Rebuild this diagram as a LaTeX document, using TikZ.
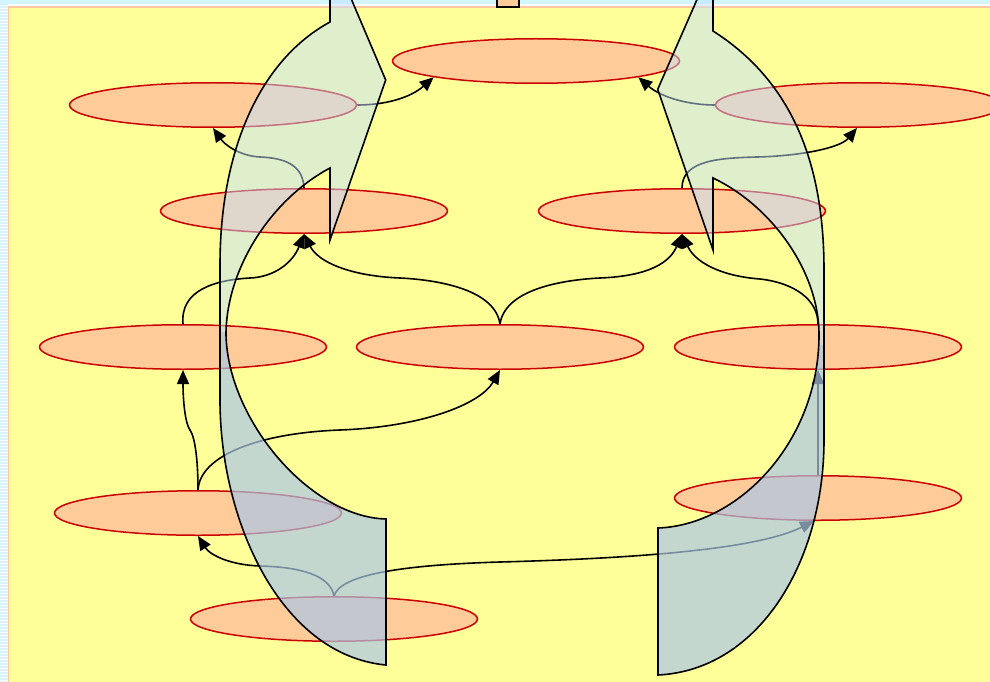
\documentclass[tikz,border=0pt]{standalone}
\usetikzlibrary{arrows.meta,shapes.geometric}
\definecolor{bgyellow}{RGB}{255,255,153}
\definecolor{peach}{RGB}{255,200,160}
\definecolor{nodefill}{RGB}{255,204,153}
\definecolor{nodeline}{RGB}{204,0,0}
\definecolor{pagecyan}{RGB}{210,245,255}
\definecolor{shA}{RGB}{192,224,255}
\definecolor{shB}{RGB}{171,199,229}
\begin{document}
\begin{tikzpicture}[x=1pt,y=-1pt,
  el/.style={ellipse, draw=nodeline, fill=nodefill, line width=1.5pt,
    minimum width=287pt, minimum height=44.5pt, inner sep=0pt},
  edge/.style={line width=1.6pt, -{Triangle[length=14pt,width=12pt]}},
  bigout/.style={draw=black, line width=1.6pt, line join=miter}]
\useasboundingbox (0,0) rectangle (990,682);
\clip (0,0) rectangle (990,682);
% page background
\fill[white] (0,0) rectangle (990,682);
\fill[pagecyan] (0,0) rectangle (990,4);
\foreach \yy in {1,4,...,682} \draw[pagecyan, line width=1.2pt] (0,\yy) -- (8,\yy);
\draw[fill=bgyellow, draw=peach, line width=1.6pt] (8.5,7) rectangle (1000,700);
\draw[fill=nodefill, line width=1.2pt] (497,-5) rectangle (519,7);
% nodes
\node[el] (n1) at (536,61) {};
\node[el] (n2L) at (213,105) {};
\node[el] (n2R) at (859,105) {};
\node[el] (n3L) at (304,211) {};
\node[el] (n3R) at (682,211) {};
\node[el] (n4L) at (183,347) {};
\node[el] (n4C) at (500,347) {};
\node[el] (n4R) at (818,347) {};
\node[el] (n5L) at (198,513) {};
\node[el] (n5R) at (818,498) {};
\node[el] (n6) at (334,619) {};
% edges
\draw[edge] (n2L.east) .. controls (385,105) and (410,98) .. (n1.189);
\draw[edge] (n2R.west) .. controls (690,105) and (662,98) .. (n1.-9);
\draw[edge] (n3L.north) .. controls (303,165) and (285,158) .. (260,157) .. controls (240,156) and (225,145) .. (n2L.south);
\draw[edge] (n3R.north) .. controls (682,160) and (720,158) .. (757,157) .. controls (800,156) and (840,148) .. (n2R.265);
\draw[edge] (n4L.north) .. controls (180,290) and (215,280) .. (250,278) .. controls (275,277) and (293,262) .. (n3L.south);
\draw[edge] (n4C.north) .. controls (495,290) and (440,280) .. (400,278) .. controls (350,276) and (318,262) .. (n3L.south);
\draw[edge] (n4C.north) .. controls (505,290) and (560,280) .. (600,278) .. controls (650,276) and (670,262) .. (n3R.south);
\draw[edge] (n4R.north) .. controls (818,300) and (795,283) .. (760,279) .. controls (720,276) and (695,262) .. (n3R.south);
\draw[edge] (n5L.north) .. controls (198,460) and (195,437) .. (190,430) .. controls (185,423) and (183,400) .. (n4L.south);
\draw[edge] (n5L.north) .. controls (200,455) and (260,433) .. (340,430) .. controls (420,427) and (480,405) .. (n4C.south);
\draw[edge] (n6.north) .. controls (330,575) and (300,567) .. (260,566) .. controls (230,565) and (210,555) .. (n5L.south);
\draw[edge] (n6.north) .. controls (340,575) and (400,565) .. (500,562) .. controls (650,558) and (760,548) .. (n5R.260);
\draw[edge] (n5R.north) -- (n4R.south);
% big curved arrows
\def\leftpath{(330,-51) -- (385.7,80) -- (330,240) -- (330,168) .. controls (270,200) and (226,270) .. (226,335) .. controls (228,420) and (310,517) .. (386,519) -- (386,665) .. controls (280,655) and (220,520) .. (220,400) -- (220,265) .. controls (220,150) and (260,60) .. (330,22) -- cycle}
\def\rightpath{(713,-37) -- (657.7,89.3) -- (713,250) -- (713,178) .. controls (770,205) and (819,270) .. (819,335) .. controls (819,440) and (740,525) .. (658,528) -- (658,675) .. controls (760,670) and (824,560) .. (824,440) -- (824,270) .. controls (824,160) and (790,80) .. (713,31) -- cycle}
\begin{scope}
\clip (0,-100) rectangle (990,332);
\fill[shA, fill opacity=0.5] \leftpath;
\end{scope}
\begin{scope}
\clip (0,332) rectangle (990,700);
\fill[shB, fill opacity=0.7] \leftpath;
\end{scope}
\begin{scope}
\clip (0,-100) rectangle (990,345);
\fill[shA, fill opacity=0.5] \rightpath;
\end{scope}
\begin{scope}
\clip (0,345) rectangle (990,700);
\fill[shB, fill opacity=0.7] \rightpath;
\end{scope}
\draw[bigout] \leftpath;
\draw[bigout] \rightpath;
\end{tikzpicture}
\end{document}
